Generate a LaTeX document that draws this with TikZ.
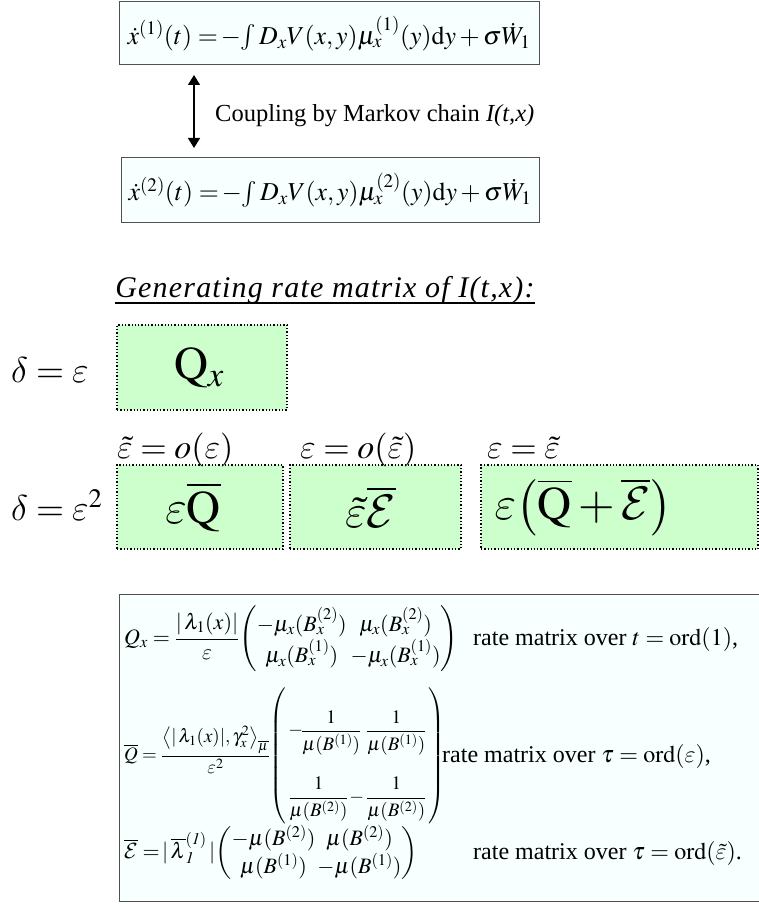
\RequirePackage{fix-cm}
\documentclass[tikz,border=0pt]{standalone}
\usepackage{amsmath}
\usepackage{mathptmx}
\usepackage{fontspec}
\setmainfont{Liberation Serif}
\DeclareSymbolFont{cmletters}{OML}{cmm}{m}{it}
\DeclareMathSymbol{\varepsilon}{\mathord}{cmletters}{"22}
\DeclareMathSymbol{\delta}{\mathord}{cmletters}{"0E}
\DeclareMathAlphabet{\mathcal}{OMS}{cmsy}{m}{n}
\usetikzlibrary{arrows.meta}
\definecolor{lgreen}{HTML}{CCFFCC}
\definecolor{lcyan}{HTML}{F8FFFF}
\definecolor{boxline}{HTML}{505050}
\begin{document}
\begin{tikzpicture}[x=1pt,y=-1pt,
  eqbox/.style={draw=boxline, line width=1pt, fill=lcyan, inner sep=0pt},
  grbox/.style={draw=black, dotted, line width=1.3pt, fill=lgreen, inner sep=0pt, minimum height=84pt},
  eqtext/.style={font=\fontsize{25.8}{30}\selectfont, inner sep=0pt},
  bigtext/.style={font=\fontsize{36}{42}\selectfont, inner sep=0pt},
  hugetext/.style={font=\fontsize{47}{54}\selectfont, inner sep=0pt},
  lbltext/.style={font=\fontsize{34}{40}\selectfont, inner sep=0pt, anchor=base west},
  mattext/.style={font=\fontsize{22}{26}\selectfont, inner sep=0pt, anchor=west},
  ratetext/.style={font=\fontsize{24}{28}\selectfont, inner sep=0pt, anchor=west}]
\useasboundingbox (0,0) rectangle (759,904);
\clip (0,0) rectangle (759,904);
\fill[white] (0,0) rectangle (759,904);
% top boxes
\node[eqbox, minimum width=420pt, minimum height=63pt] (b1) at (329,33.5) {};
\node[eqtext] (e1) at (b1.center) {$\dot{x}^{(1)}(t)=\!-\!\int D_xV(x,y)\mu_x^{(1)}(y)\mathrm{d}y+\sigma\dot{W}_1$};
\node[eqbox, minimum width=418pt, minimum height=64pt] (b2) at (330,190) {};
\node[eqtext] (e2) at (b2.center) {$\dot{x}^{(2)}(t)=\!-\!\int D_xV(x,y)\mu_x^{(2)}(y)\mathrm{d}y+\sigma\dot{W}_1$};
\coordinate (a1) at (194,75);
\coordinate (a2) at (194,148);
\draw[line width=1.5pt, {Triangle[length=10pt,width=12pt]}-{Triangle[length=10pt,width=12pt]}] (a1) -- (a2);
\node[font=\fontsize{24.5}{29}\selectfont, inner sep=0pt, anchor=west] (coup) at (215,116) {Coupling by Markov chain \textit{I(t,x)}};
% heading
\node[font=\fontsize{30}{36}\selectfont\itshape\addfontfeature{LetterSpace=4}, inner sep=0pt] (head) at (325,290) {Generating rate matrix of I(t,x):};
\draw[line width=1.8pt] ([yshift=-5.5pt]head.base west) -- ([yshift=-5.5pt]head.base east);
% delta = eps
\node[bigtext, anchor=west] (d1) at (11,370) {$\delta=\varepsilon$};
\node[grbox, minimum width=170pt, minimum height=85pt] (q) at (202,367.5) {};
\node[hugetext] (qt) at ([xshift=-3pt]q.center) {$\mathrm{Q}_x$};
% delta = eps^2
\node[bigtext, anchor=west] (d2) at (11,505) {$\delta=\varepsilon^2$};
\node[grbox, minimum width=166pt] (g1) at (200,507) {};
\node[grbox, minimum width=171pt] (g2) at (375.5,507) {};
\node[grbox, minimum width=277pt] (g3) at (619.5,507) {};
\node[hugetext] (g1t) at ([xshift=-7pt]g1.center) {$\varepsilon\overline{\mathrm{Q}}$};
\node[hugetext] (g2t) at ([xshift=-5pt]g2.center) {$\tilde{\varepsilon}\overline{\mathcal{E}}$};
\node[hugetext, anchor=west] (g3t) at ([xshift=14pt]g3.west) {$\varepsilon\bigl(\overline{\mathrm{Q}}+\overline{\mathcal{E}}\bigr)$};
\node[lbltext] (l1) at (117,458) {$\tilde{\varepsilon}=o(\varepsilon)$};
\node[lbltext] (l2) at (300,458) {$\varepsilon=o(\tilde{\varepsilon})$};
\node[lbltext] (l3) at (487,458) {$\varepsilon=\tilde{\varepsilon}$};
% bottom box
\node[eqbox, minimum width=651pt, minimum height=307pt] (bb) at (444.5,747.5) {};
\node[mattext] (m1) at (124,639) {\arraycolsep=2pt$Q_x=\dfrac{|\,\lambda_1(x)|}{\varepsilon}\!\begin{pmatrix}-\mu_x(B_x^{(2)}) & \mu_x(B_x^{(2)})\\ \mu_x(B_x^{(1)}) & -\mu_x(B_x^{(1)})\end{pmatrix}$};
\node[ratetext] (t1) at (473,639) {rate matrix over $t=\mathrm{ord}(1)$,};
\node[mattext, font=\fontsize{19}{23}\selectfont] (m2) at (124,756) {\renewcommand{\arraystretch}{2.9}$\overline{Q}=\dfrac{\bigl\langle|\,\lambda_1(x)|,\gamma_x^2\bigr\rangle_{\overline{\mu}}}{\varepsilon^2}\!\left(\begin{array}{@{\,}l@{\hspace{5pt}}l@{\,}}-\mkern-2mu\dfrac{1}{\mu(B^{(1)})} & \dfrac{1}{\mu(B^{(1)})}\\ \dfrac{1}{\mu(B^{(2)})} & \llap{$-\mkern2mu$}\dfrac{1}{\mu(B^{(2)})}\end{array}\right)$};
\node[ratetext] (t2) at (442,756) {rate matrix over $\tau=\mathrm{ord}(\varepsilon)$,};
\node[mattext] (m3) at (124,853) {\arraycolsep=1pt$\overline{\mathcal{E}}=\!|\,\overline{\lambda}_{\mathit{1}}^{(\mathit{1})}\,|\!\begin{pmatrix}-\mu(B^{(2)}) & \mu(B^{(2)})\\ \mu(B^{(1)}) & -\mu(B^{(1)})\end{pmatrix}$};
\node[ratetext] (t3) at (473,853) {rate matrix over $\tau=\mathrm{ord}(\tilde{\varepsilon})$.};
\end{tikzpicture}
\end{document}
